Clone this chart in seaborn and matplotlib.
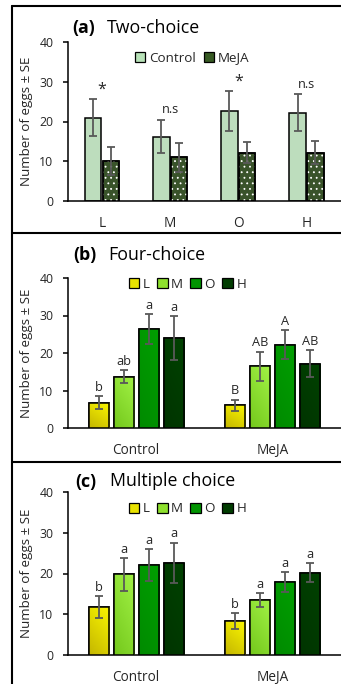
import numpy as np
import pandas as pd
import matplotlib
matplotlib.use("Agg")
import matplotlib.pyplot as plt
from matplotlib.patches import Patch, Rectangle
from matplotlib.lines import Line2D
from matplotlib.colors import LinearSegmentedColormap
import seaborn as sns

# ---------------- data ----------------
sites = ["L", "M", "O", "H"]
treatments = ["Control", "MeJA"]

# (a) two-choice: eggs per site, control vs MeJA
two_control = [21.0, 16.2, 22.7, 22.2]
two_control_se = [4.7, 4.2, 5.0, 4.6]
two_meja = [10.1, 11.0, 12.2, 12.2]
two_meja_se = [3.5, 3.7, 2.6, 2.8]
two_signif = ["*", "n.s", "*", "n.s"]

# (b) four-choice: eggs per site within each treatment
four_control = [6.8, 13.7, 26.5, 24.0]
four_control_se = [1.7, 1.8, 4.0, 5.8]
four_meja = [6.1, 16.5, 22.2, 17.2]
four_meja_se = [1.5, 3.9, 3.9, 3.6]
four_letters_control = ["b", "ab", "a", "a"]
four_letters_meja = ["B", "AB", "A", "AB"]

# (c) multiple choice
multi_control = [11.8, 19.8, 22.0, 22.6]
multi_control_se = [2.7, 4.1, 3.9, 5.0]
multi_meja = [8.3, 13.5, 17.9, 20.2]
multi_meja_se = [2.0, 1.8, 2.5, 2.3]
multi_letters_control = ["b", "a", "a", "a"]
multi_letters_meja = ["b", "a", "a", "a"]

yticks = [0, 10, 20, 30, 40]

# ---------------- style ----------------
sns.set_style("white")
plt.rcParams["font.family"] = ["Open Sans", "DejaVu Sans"]
plt.rcParams["text.color"] = "#262626"
plt.rcParams["hatch.linewidth"] = 0.6

treat_colors = {"Control": "#b8e2b8", "MeJA": "#375a23"}
site_colors = {"L": "#e8e200", "M": "#8ee02e", "O": "#009400", "H": "#003c00"}
site_shades = {
    "L": ("#c4b600", "#fbf700"),
    "M": ("#74c81c", "#a2f246"),
    "O": ("#008a00", "#00a000"),
    "H": ("#003400", "#004200"),
}
err_color = "#595959"
TICK_FS = 8.8
XLAB_FS = 9.8
ANN_FS = 9.2
TITLE_FS = 12.8

W, H = 341, 684
fig = plt.figure(figsize=(W / 100, H / 100), dpi=100)


def box(left_px, top_px, bottom_px):
    l = left_px / W
    return [l, 1 - bottom_px / H, 340.5 / W - l, (bottom_px - top_px) / H]


def style_axis(ax, cats):
    n = len(cats)
    ax.set_xlim(-0.5, n - 0.5)
    ax.set_ylim(0, 40)
    ax.set_yticks(yticks)
    ax.set_yticklabels([str(t) for t in yticks], fontsize=TICK_FS, color="#262626")
    ax.set_xticks(np.arange(n + 1) - 0.5, labels=[""] * (n + 1))
    ax.set_xticks(np.arange(n), labels=cats, minor=True)
    ax.tick_params(axis="x", which="major", direction="out", length=3.5, width=1.1,
                   color="black")
    ax.tick_params(axis="x", which="minor", length=0, pad=10.5, labelsize=XLAB_FS,
                   labelcolor="#262626")
    ax.tick_params(axis="y", direction="out", length=3.5, width=1.1, color="black",
                   pad=7, left=True)
    for s in ["top", "right"]:
        ax.spines[s].set_visible(False)
    for s in ["left", "bottom"]:
        ax.spines[s].set_color("black")
        ax.spines[s].set_linewidth(1.1)
    ax.set_xlabel("")
    ax.set_ylabel("")
    ax.set_facecolor("none")


def add_errors(ax, means_by_hue, se_by_hue):
    tops = []
    for cont, means, ses in zip(ax.containers, means_by_hue, se_by_hue):
        xs = [b.get_x() + b.get_width() / 2 for b in cont]
        hs = [b.get_height() for b in cont]
        ax.errorbar(xs, hs, yerr=ses, fmt="none", ecolor=err_color, elinewidth=1.3,
                    capsize=3.2, capthick=1.3, zorder=5)
        tops.append([(x, h + s) for x, h, s in zip(xs, hs, ses)])
    return tops


def restroke(ax, bar):
    ax.add_patch(Rectangle((bar.get_x(), bar.get_y()), bar.get_width(), bar.get_height(),
                           fill=False, edgecolor="black", linewidth=1.1, zorder=4))


def shade_bar(ax, bar, c0, c1):
    x0, y0, w, h = bar.get_x(), bar.get_y(), bar.get_width(), bar.get_height()
    u = np.linspace(0, 1, 40)
    v = np.linspace(0, 1, 80)
    uu, vv = np.meshgrid(u, v)
    t = 0.35 * uu + 0.65 * (1 - vv)  # light towards bottom-right
    cmap = LinearSegmentedColormap.from_list("g", [c0, c1])
    im = ax.imshow(t, extent=[x0, x0 + w, y0, y0 + h], origin="upper", cmap=cmap,
                   aspect="auto", zorder=3, vmin=0, vmax=1, interpolation="bilinear")
    im.set_clip_path(bar)
    restroke(ax, bar)


def label_text(fig, x_px, y_px, tag, title):
    fig.text(x_px / W, 1 - y_px / H, tag, fontsize=TITLE_FS, fontweight="bold",
             ha="left", va="center", color="black")
    fig.text((x_px + 35) / W, 1 - y_px / H, title, fontsize=TITLE_FS,
             ha="left", va="center", color="black")


def ylabel(fig, y_px):
    fig.text(26.5 / W, 1 - y_px / H, "Number of eggs ± SE", rotation=90,
             fontsize=9.6, ha="center", va="center", color="#262626")


def legend(ax, labels, colors, x_px, y_px, colspacing):
    handles = [Patch(facecolor=colors[k], edgecolor="black", linewidth=0.9) for k in labels]
    ax.legend(handles, labels, loc="center", bbox_to_anchor=(x_px / W, 1 - y_px / H),
              bbox_transform=fig.transFigure, ncol=len(labels), frameon=False,
              fontsize=9.6, handlelength=0.8, handleheight=0.8, handletextpad=0.25,
              columnspacing=colspacing, borderpad=0, labelcolor="#262626")


# ---------------- (a) two-choice ----------------
ax_a = fig.add_axes(box(68, 42, 201))
df_a = pd.DataFrame({
    "site": sites * 2,
    "treatment": ["Control"] * 4 + ["MeJA"] * 4,
    "eggs": two_control + two_meja,
})
sns.barplot(data=df_a, x="site", y="eggs", hue="treatment", order=sites,
            hue_order=treatments, palette=treat_colors, width=0.52, gap=0.07,
            errorbar=None, edgecolor="black", linewidth=1.1, legend=False,
            ax=ax_a, zorder=2)
for bar in ax_a.containers[1]:
    ax_a.add_patch(Rectangle((bar.get_x(), bar.get_y()), bar.get_width(), bar.get_height(),
                             fill=False, hatch="...", edgecolor="white", linewidth=0,
                             zorder=3, clip_path=bar))
    restroke(ax_a, bar)
tops_a = add_errors(ax_a, [two_control, two_meja], [two_control_se, two_meja_se])
for i, mark in enumerate(two_signif):
    top = max(tops_a[0][i][1], tops_a[1][i][1])
    if mark == "*":
        ax_a.annotate(mark, (i, top), xytext=(0, 1.0), textcoords="offset points",
                      ha="center", va="bottom", fontsize=11.5, color="#262626")
    else:
        ax_a.annotate(mark, (i, top), xytext=(0, 5), textcoords="offset points",
                      ha="center", va="baseline", fontsize=ANN_FS, color="#262626")
style_axis(ax_a, sites)
label_text(fig, 72, 28, "(a)", "Two-choice")
ylabel(fig, 121.5)
legend(ax_a, treatments, treat_colors, 192, 58, 0.6)


# ---------------- (b)/(c) site preference within treatment ----------------
def site_panel(box_px, ctrl, ctrl_se, meja, meja_se, let_c, let_m):
    ax = fig.add_axes(box(68, *box_px))
    df = pd.DataFrame({
        "treatment": ["Control"] * 4 + ["MeJA"] * 4,
        "site": sites * 2,
        "eggs": ctrl + meja,
    })
    sns.barplot(data=df, x="treatment", y="eggs", hue="site", order=treatments,
                hue_order=sites, palette=site_colors, width=0.735, gap=0.2,
                errorbar=None, edgecolor="black", linewidth=1.1, legend=False,
                ax=ax, zorder=2)
    for site, cont in zip(sites, ax.containers):
        for bar in cont:
            shade_bar(ax, bar, *site_shades[site])
    means = [[ctrl[k], meja[k]] for k in range(4)]
    ses = [[ctrl_se[k], meja_se[k]] for k in range(4)]
    tops = add_errors(ax, means, ses)
    for k in range(4):
        for j, lets in enumerate([let_c, let_m]):
            x, top = tops[k][j]
            ax.annotate(lets[k], (x, top), xytext=(0, 1.5), textcoords="offset points",
                        ha="center", va="bottom", fontsize=ANN_FS, color="#262626")
    style_axis(ax, treatments)
    return ax


ax_b = site_panel((278, 428), four_control, four_control_se, four_meja, four_meja_se,
                  four_letters_control, four_letters_meja)
label_text(fig, 73, 255, "(b)", "Four-choice")
ylabel(fig, 353)
legend(ax_b, sites, site_colors, 187.5, 284, 0.55)

ax_c = site_panel((492, 655), multi_control, multi_control_se, multi_meja, multi_meja_se,
                  multi_letters_control, multi_letters_meja)
label_text(fig, 75, 481.5, "(c)", "Multiple choice")
ylabel(fig, 573.5)
legend(ax_c, sites, site_colors, 187.5, 509, 0.55)

# ---------------- panel frames ----------------
frame_kw = dict(color="black", linewidth=1.5, transform=fig.transFigure, zorder=10)
fig.add_artist(Line2D([11.5 / W, 11.5 / W], [1 - 5.5 / H, 0], **frame_kw))
for y in (5.5, 233.3, 461.7):
    fig.add_artist(Line2D([11.5 / W, 1.0], [1 - y / H, 1 - y / H], **frame_kw))

fig.savefig("out.png", dpi=100, facecolor="white")
